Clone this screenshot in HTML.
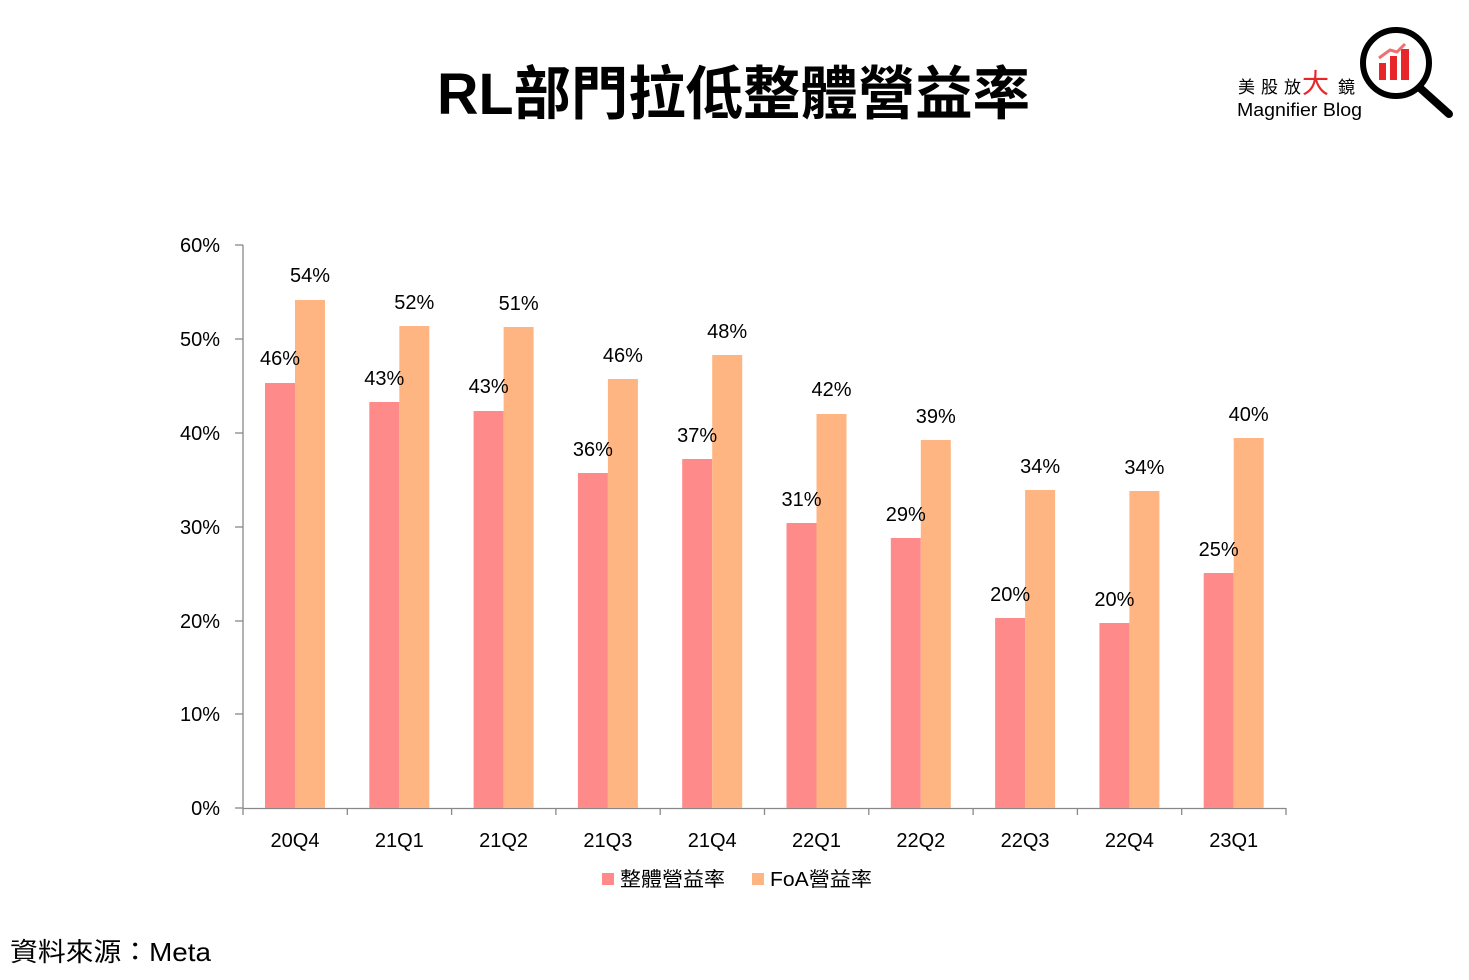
<!DOCTYPE html>
<html><head><meta charset="utf-8"><style>
html,body{margin:0;padding:0;background:#fff;}
svg{display:block;}
text{font-family:"Liberation Sans","Noto Sans CJK TC",sans-serif;fill:#000;}
</style></head><body>
<svg width="1469" height="980" viewBox="0 0 1469 980" xmlns="http://www.w3.org/2000/svg">
<text x="437" y="114" font-size="58" font-weight="bold" textLength="593" lengthAdjust="spacingAndGlyphs">RL部門拉低整體營益率</text>
<!-- logo -->
<text x="1238" y="93" font-size="17" letter-spacing="6">美股放</text>
<text x="1302" y="93" font-size="27" style="fill:#e8262a">大</text>
<text x="1338" y="93" font-size="17">鏡</text>
<text x="1237" y="116" font-size="18" textLength="125" lengthAdjust="spacingAndGlyphs">Magnifier Blog</text>
<circle cx="1396" cy="63" r="33" fill="none" stroke="#000" stroke-width="6"/>
<line x1="1420" y1="88" x2="1449" y2="114" stroke="#000" stroke-width="8" stroke-linecap="round"/>
<rect x="1379" y="63" width="7" height="17" fill="#e8262a"/>
<rect x="1390" y="56" width="7" height="24" fill="#e8262a"/>
<rect x="1401" y="49" width="8" height="31" fill="#e8262a"/>
<polyline points="1379,58 1390,50 1397,52 1405,44" fill="none" stroke="#f07070" stroke-width="3"/>
<!-- axes -->
<g stroke="#888" stroke-width="1.3">
<line x1="243" y1="245" x2="243" y2="815"/>
<line x1="243" y1="808.5" x2="1286" y2="808.5"/>
<line x1="235" y1="245" x2="243" y2="245"/>
<line x1="235" y1="339" x2="243" y2="339"/>
<line x1="235" y1="433" x2="243" y2="433"/>
<line x1="235" y1="527" x2="243" y2="527"/>
<line x1="235" y1="621" x2="243" y2="621"/>
<line x1="235" y1="714" x2="243" y2="714"/>
<line x1="235" y1="808" x2="243" y2="808"/>
<line x1="347.3" y1="808" x2="347.3" y2="815"/>
<line x1="451.6" y1="808" x2="451.6" y2="815"/>
<line x1="555.9" y1="808" x2="555.9" y2="815"/>
<line x1="660.2" y1="808" x2="660.2" y2="815"/>
<line x1="764.5" y1="808" x2="764.5" y2="815"/>
<line x1="868.8" y1="808" x2="868.8" y2="815"/>
<line x1="973.1" y1="808" x2="973.1" y2="815"/>
<line x1="1077.4" y1="808" x2="1077.4" y2="815"/>
<line x1="1181.7" y1="808" x2="1181.7" y2="815"/>
<line x1="1286" y1="808" x2="1286" y2="815"/>
</g>
<g font-size="20" text-anchor="end">
<text x="220" y="252">60%</text><text x="220" y="346">50%</text><text x="220" y="440">40%</text>
<text x="220" y="534">30%</text><text x="220" y="628">20%</text><text x="220" y="721">10%</text>
<text x="220" y="815">0%</text>
</g>
<!-- bars -->
<g fill="#ff8a8a">
<rect x="265" y="383" width="30" height="425"/>
<rect x="369.3" y="402" width="30" height="406"/>
<rect x="473.6" y="411" width="30" height="397"/>
<rect x="577.9" y="473" width="30" height="335"/>
<rect x="682.2" y="459" width="30" height="349"/>
<rect x="786.5" y="523" width="30" height="285"/>
<rect x="890.8" y="538" width="30" height="270"/>
<rect x="995.1" y="618" width="30" height="190"/>
<rect x="1099.4" y="623" width="30" height="185"/>
<rect x="1203.7" y="573" width="30" height="235"/>
</g>
<g fill="#ffb582">
<rect x="295" y="300" width="30" height="508"/>
<rect x="399.3" y="326" width="30" height="482"/>
<rect x="503.6" y="327" width="30" height="481"/>
<rect x="607.9" y="379" width="30" height="429"/>
<rect x="712.2" y="355" width="30" height="453"/>
<rect x="816.5" y="414" width="30" height="394"/>
<rect x="920.8" y="440" width="30" height="368"/>
<rect x="1025.1" y="490" width="30" height="318"/>
<rect x="1129.4" y="491" width="30" height="317"/>
<rect x="1233.7" y="438" width="30" height="370"/>
</g>
<g font-size="20" text-anchor="middle">
<text x="280" y="365">46%</text><text x="384.3" y="385">43%</text><text x="488.6" y="393">43%</text>
<text x="592.9" y="456">36%</text><text x="697.2" y="442">37%</text><text x="801.5" y="506">31%</text>
<text x="905.8" y="521">29%</text><text x="1010.1" y="601">20%</text><text x="1114.4" y="606">20%</text>
<text x="1218.7" y="556">25%</text>
<text x="310" y="282">54%</text><text x="414.3" y="309">52%</text><text x="518.6" y="310">51%</text>
<text x="622.9" y="362">46%</text><text x="727.2" y="338">48%</text><text x="831.5" y="396">42%</text>
<text x="935.8" y="423">39%</text><text x="1040.1" y="473">34%</text><text x="1144.4" y="474">34%</text>
<text x="1248.7" y="421">40%</text>
</g>
<g font-size="20" text-anchor="middle">
<text x="295" y="847">20Q4</text><text x="399.3" y="847">21Q1</text><text x="503.6" y="847">21Q2</text>
<text x="607.9" y="847">21Q3</text><text x="712.2" y="847">21Q4</text><text x="816.5" y="847">22Q1</text>
<text x="920.8" y="847">22Q2</text><text x="1025.1" y="847">22Q3</text><text x="1129.4" y="847">22Q4</text>
<text x="1233.7" y="847">23Q1</text>
</g>
<rect x="602" y="873" width="12" height="12" fill="#ff8a8a"/>
<text x="620" y="886" font-size="20" textLength="105" lengthAdjust="spacingAndGlyphs">整體營益率</text>
<rect x="752" y="873" width="12" height="12" fill="#ffb582"/>
<text x="770" y="886" font-size="20" textLength="102" lengthAdjust="spacingAndGlyphs">FoA營益率</text>
<text x="10" y="961" font-size="26" textLength="201" lengthAdjust="spacingAndGlyphs">資料來源：Meta</text>
</svg>
</body></html>
